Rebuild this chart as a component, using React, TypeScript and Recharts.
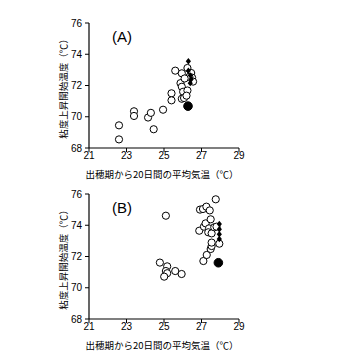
import React from 'react';
import { ScatterChart, Scatter, XAxis, YAxis } from 'recharts';

// Panel A
const aOpenX = [22.6, 22.6, 23.4, 23.4, 24.15, 24.3, 24.45, 24.95, 25.4, 25.4, 25.6, 25.95, 25.88, 25.95, 26.02, 26.25, 25.95, 26.07, 26.25, 26.2, 26.45, 26.5, 26.55, 26.35, 26.1];
const aOpenY = [69.45, 68.55, 70.35, 70.05, 69.95, 70.25, 69.2, 70.45, 71.5, 71.05, 72.95, 72.78, 72.15, 71.92, 71.6, 71.68, 71.15, 71.2, 73.12, 71.35, 72.8, 72.5, 72.25, 72.55, 72.45];
const aDiamondX = [26.3, 26.3, 26.4, 26.45, 26.4];
const aDiamondY = [73.55, 72.95, 72.65, 72.4, 72.15];
const aFilledX = [26.28];
const aFilledY = [70.68];

// Panel B
const bOpenX = [24.78, 25.1, 25.17, 25.1, 25.17, 25.01, 25.6, 25.94, 26.88, 26.92, 27.08, 27.26, 27.44, 27.76, 27.1, 27.28, 27.49, 27.54, 27.54, 27.95, 27.13, 27.22, 27.4, 27.49, 27.36, 27.54, 27.68, 27.8];
const bOpenY = [71.61, 74.61, 71.37, 71.07, 70.93, 70.71, 71.07, 70.88, 73.65, 75.0, 75.04, 75.19, 74.95, 75.66, 71.71, 72.1, 72.48, 72.67, 72.89, 72.82, 73.91, 74.12, 73.8, 74.38, 73.55, 73.48, 73.87, 73.91];
const bDiamondX = [27.95, 27.95, 27.95, 27.95];
const bDiamondY = [74.08, 73.74, 73.42, 73.12];
const bFilledX = [27.9];
const bFilledY = [71.6];

const xTicks = [21, 23, 25, 27, 29];
const yTicks = [68, 70, 72, 74, 76];
const xLabel = '出穂期から20日間の平均気温（℃）';
const yLabel = '粘度上昇開始温度（℃）';

const zip = (xs: number[], ys: number[]) => xs.map((x, i) => ({ x, y: ys[i] }));

const OpenCircle = (p: any) => (
  <circle cx={p.cx} cy={p.cy} r={3.6} fill="#fff" stroke="#000" strokeWidth={1} />
);
const FilledCircle = (p: any) => (
  <circle cx={p.cx} cy={p.cy} r={4.3} fill="#000" stroke="#000" strokeWidth={1} />
);
const Diamond = (p: any) => (
  <polygon
    points={`${p.cx},${p.cy - 3.2} ${p.cx + 2.6},${p.cy} ${p.cx},${p.cy + 3.2} ${p.cx - 2.6},${p.cy}`}
    fill="#000"
  />
);

const tickStyle = { fill: '#000', fontSize: 10, fontFamily: 'Liberation Sans, Arial, sans-serif' };
const cjk = 'Noto Sans CJK JP, sans-serif';

const YLab = (props: any) => {
  const vb = props.viewBox || { x: 0, y: 0, width: 0, height: 0 };
  const cx = 63;
  const cy = vb.y + vb.height / 2 + 1;
  return (
    <text x={cx} y={cy} transform={`rotate(-90 ${cx} ${cy})`} textAnchor="middle" dominantBaseline="central" fontSize={9.5} fontFamily={cjk} fill="#000">
      {yLabel}
    </text>
  );
};

const XLab = (props: any) => {
  const vb = props.viewBox || { x: 0, y: 0, width: 0, height: 0 };
  const cx = vb.x + vb.width / 2 - 2;
  const cy = vb.y + 26;
  return (
    <text x={cx} y={cy} textAnchor="middle" dominantBaseline="central" fontSize={9.5} fontFamily={cjk} fill="#000">
      {xLabel}
    </text>
  );
};

function Panel(props: { open: any[]; diamonds: any[]; filled: any[]; tag: string; margin: any; height: number }) {
  return (
    <ScatterChart width={354} height={props.height} margin={props.margin}>
      <XAxis
        type="number"
        dataKey="x"
        domain={[21, 29]}
        ticks={xTicks}
        interval={0}
        tickSize={4}
        tickMargin={0}
        tick={tickStyle}
        axisLine={{ stroke: '#000', strokeWidth: 1.2 }}
        tickLine={{ stroke: '#000' }}
        height={29}
        label={<XLab />}
        allowDataOverflow
      />
      <YAxis
        type="number"
        dataKey="y"
        domain={[68, 76]}
        ticks={yTicks}
        interval={0}
        tickSize={4}
        tickMargin={3}
        tick={tickStyle}
        axisLine={{ stroke: '#000', strokeWidth: 1.2 }}
        tickLine={{ stroke: '#000' }}
        width={89}
        label={<YLab />}
        allowDataOverflow
      />
      <Scatter data={props.open} shape={OpenCircle} isAnimationActive={false} />
      <Scatter data={props.diamonds} shape={Diamond} isAnimationActive={false} />
      <Scatter data={props.filled} shape={FilledCircle} isAnimationActive={false} />
      <text x={122} y={props.margin.top + 13} textAnchor="middle" dominantBaseline="central" fontSize={15} fontFamily="Liberation Sans, Arial, sans-serif" fill="#000">
        {props.tag}
      </text>
    </ScatterChart>
  );
}

export default function App() {
  return (
    <div style={{ position: 'absolute', left: 0, top: 0, width: 354, height: 354, background: '#fff' }}>
      <div style={{ position: 'absolute', left: 0, top: 0 }}>
        <Panel
          open={zip(aOpenX, aOpenY)}
          diamonds={zip(aDiamondX, aDiamondY)}
          filled={zip(aFilledX, aFilledY)}
          tag="(A)"
          height={186}
          margin={{ top: 23, right: 115, left: 0, bottom: 9 }}
        />
      </div>
      <div style={{ position: 'absolute', left: 0, top: 177 }}>
        <Panel
          open={zip(bOpenX, bOpenY)}
          diamonds={zip(bDiamondX, bDiamondY)}
          filled={zip(bFilledX, bFilledY)}
          tag="(B)"
          height={177}
          margin={{ top: 17, right: 115, left: 0, bottom: 6 }}
        />
      </div>
    </div>
  );
}
